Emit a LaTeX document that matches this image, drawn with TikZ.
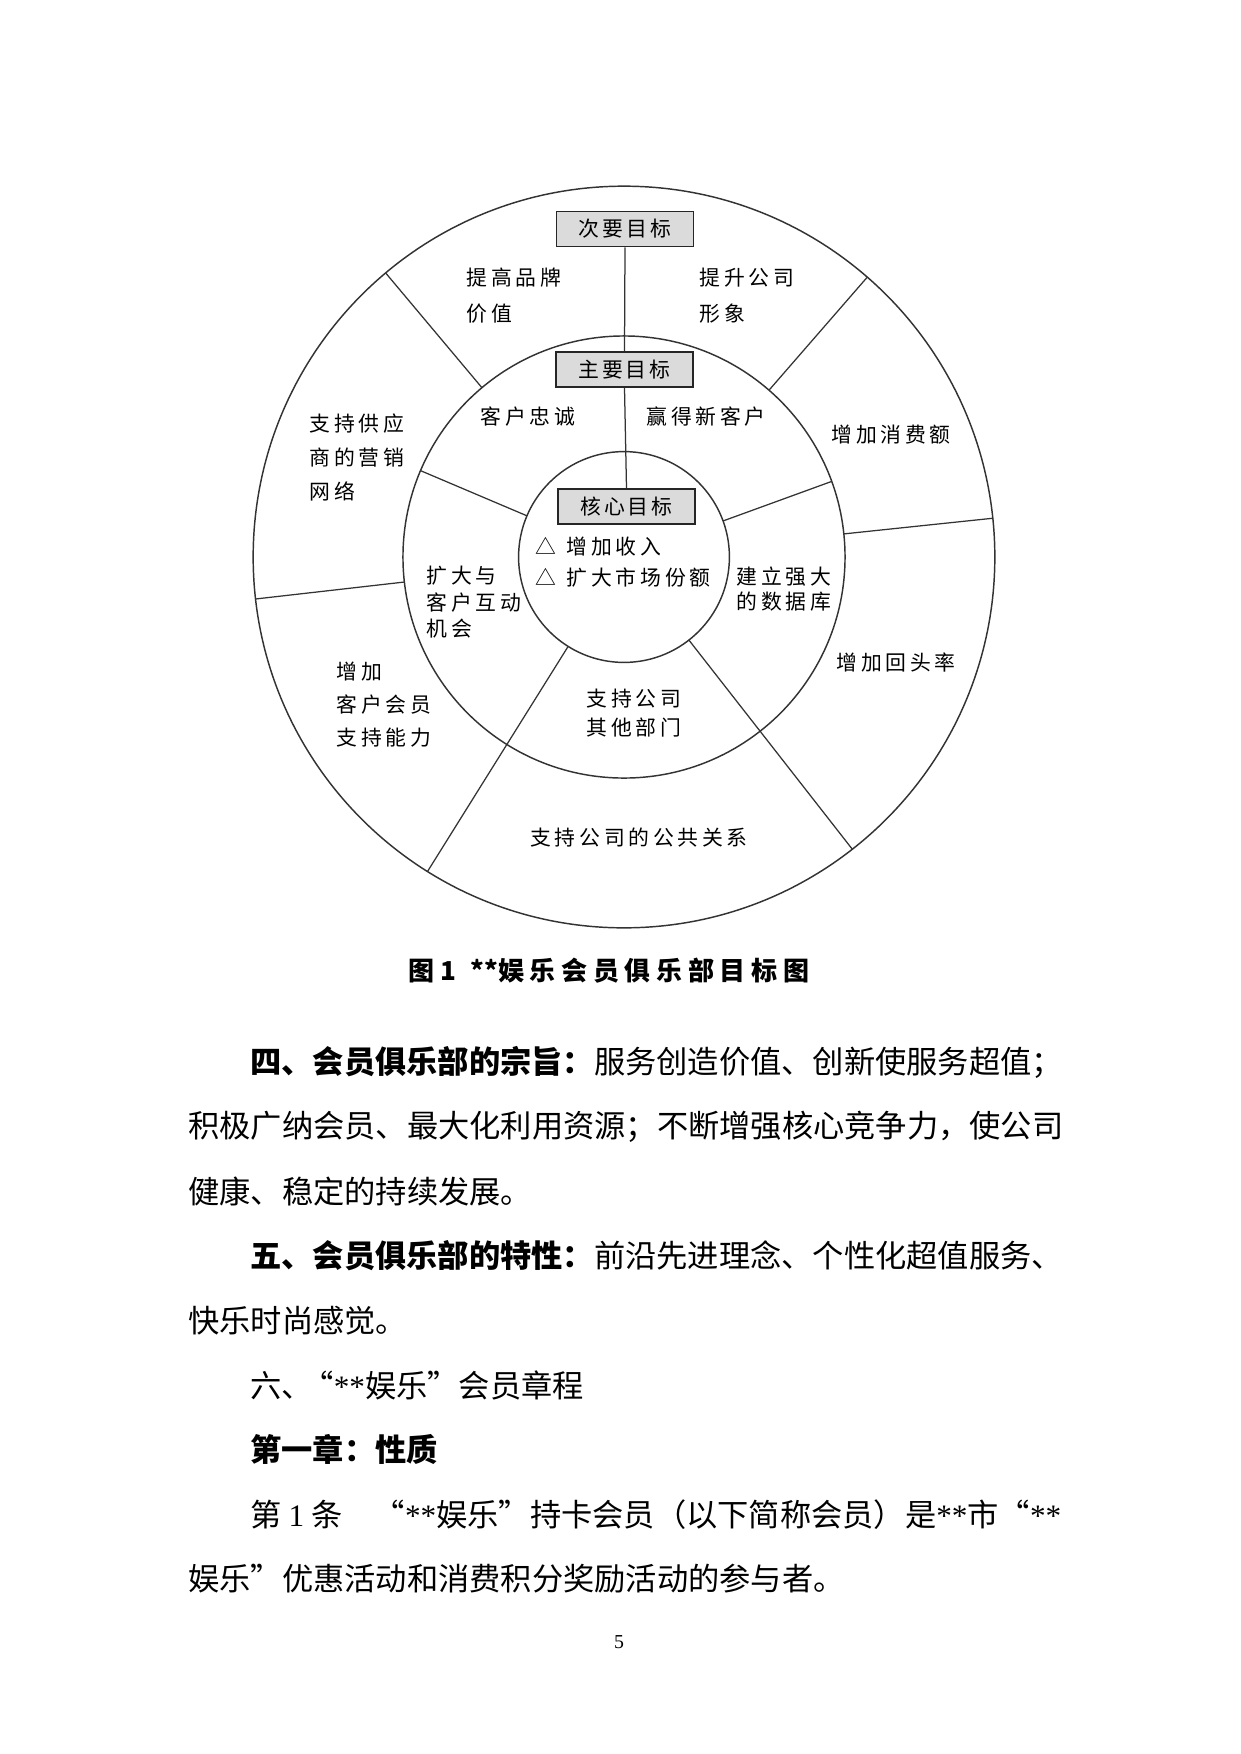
\documentclass[tikz,border=0pt]{standalone}
\usepackage{fontspec}
\setmainfont{Noto Sans CJK SC}
\newfontfamily\tm{Liberation Serif}
\usetikzlibrary{calc}

\def\lsk{1.8pt}
\def\ls#1{\lsA#1\relax}
\def\lsA#1{\ifx\relax#1\unkern\else#1\kern\lsk\expandafter\lsA\fi}

\tikzset{
  ring/.style={draw=black!80, line width=0.7pt},
  divider/.style={draw=black!80, line width=0.6pt},
  goalbox/.style={draw=black!85, line width=0.9pt, fill=black!14, minimum width=65.8pt, minimum height=16.8pt, inner sep=0pt, font=\fontsize{10}{12}\selectfont},
  lbl/.style={inner sep=0pt, align=left, font=\fontsize{10}{12}\selectfont},
  body/.style={inner sep=0pt, anchor=west, font=\fontsize{15}{18}\selectfont},
}

\begin{document}
\begin{tikzpicture}[x=0.48pt,y=-0.48pt]
\useasboundingbox[fill=white] (0,0) rectangle (1241,1754);
\coordinate (c) at (624,557);

% circles
\draw[ring] (c) circle[radius=178pt];
\draw[ring] (c) circle[radius=106.1pt];
\draw[ring] (c) circle[radius=50.6pt];

% outer ring dividers
\foreach \a in {-130,-49,-6,173.5}{
  \draw[divider] ([shift={(c)}]\a:221) -- ([shift={(c)}]\a:371);
}
% middle ring dividers
\foreach \a in {-157,-20}{
  \draw[divider] ([shift={(c)}]\a:105.5) -- ([shift={(c)}]\a:221);
}
% through dividers
\foreach \a in {52,122}{
  \draw[divider] ([shift={(c)}]\a:105.5) -- ([shift={(c)}]\a:371);
}

% goal boxes
\node[goalbox] (sec) at (625,229) {\def\lsk{1.4pt}\ls{次要目标}};
\node[goalbox] (pri) at (624.5,369.5) {\def\lsk{1.4pt}\ls{主要目标}};
\node[goalbox] (core) at (626.5,506.5) {\def\lsk{1.4pt}\ls{核心目标}};
\draw[divider] (sec.south) -- (pri.north);
\draw[divider] (pri.south) -- (core.north);

% outer ring labels
\node[lbl, anchor=west, font=\fontsize{10}{17.3}\selectfont] (brand) at (466,296) {\ls{提高品牌}\\\ls{价值}};
\node[lbl, anchor=west, font=\fontsize{10}{17.3}\selectfont] (image) at (699,296) {\ls{提升公司}\\\ls{形象}};
\node[lbl, anchor=west, font=\fontsize{10}{16.1}\selectfont] (supplier) at (309,457.5) {\ls{支持供应}\\\ls{商的营销}\\\ls{网络}};
\node[lbl] (spend) at (891,435) {\ls{增加消费额}};
\node[lbl] (return) at (896,663) {\ls{增加回头率}};
\node[lbl, anchor=west, font=\fontsize{10}{15.8}\selectfont] (support) at (336,705) {\ls{增加}\\\ls{客户会员}\\\ls{支持能力}};
\node[lbl] (pr) at (639,838) {\ls{支持公司的公共关系}};

% middle ring labels
\node[lbl] (loyal) at (528,417) {\ls{客户忠诚}};
\node[lbl] (newc) at (706,417) {\ls{赢得新客户}};
\node[lbl, anchor=west, font=\fontsize{10}{12.7}\selectfont] (inter) at (426,602.5) {\ls{扩大与}\\\ls{客户互动}\\\ls{机会}};
\node[lbl, anchor=west, font=\fontsize{10}{12}\selectfont] (db) at (736,589.5) {\ls{建立强大}\\\ls{的数据库}};
\node[lbl, anchor=west, font=\fontsize{10}{14.2}\selectfont] (dept) at (586,713) {\ls{支持公司}\\\ls{其他部门}};

% core labels
\node[lbl, anchor=west, font=\fontsize{10}{14.9}\selectfont] (coretxt) at (535,562.5) {△\kern5pt\ls{增加收入}\\△\kern5pt\ls{扩大市场份额}};

% caption
\node[inner sep=0pt, font=\fontsize{12.5}{14}\selectfont\bfseries] (cap) at (609,971) {\def\lsk{2.7pt}\ls{图1}\kern7pt**\ls{娱乐会员俱乐部目标图}};

% body text
\node[body] (p1) at (250,1062) {\textbf{四、会员俱乐部的宗旨：}服务创造价值、创新使服务超值；};
\node[body] (p2) at (188,1126.6) {积极广纳会员、最大化利用资源；不断增强核心竞争力，使公司};
\node[body] (p3) at (188,1191.2) {健康、稳定的持续发展。};
\node[body] (p4) at (250,1255.8) {\textbf{五、会员俱乐部的特性：}前沿先进理念、个性化超值服务、};
\node[body] (p5) at (188,1320.4) {快乐时尚感觉。};
\node[body] (p6) at (250,1385) {六、\kern-5pt“{\tm **}娱乐”会员章程};
\node[body] (p7) at (250,1449.6) {\textbf{第一章：性质}};
\node[body] (p8) at (250,1514.2) {第 {\tm 1} 条　“{\tm **}娱乐”持卡会员（以下简称会员）是{\tm **}市“{\tm **}};
\node[body] (p9) at (188,1578.8) {娱乐”优惠活动和消费积分奖励活动的参与者。};

\node[inner sep=0pt, font=\tm\fontsize{9.5}{11}\selectfont] (pg) at (619,1642) {5};
\end{tikzpicture}
\end{document}
